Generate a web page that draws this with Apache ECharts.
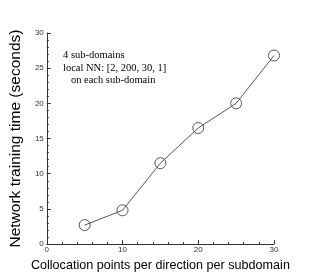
<!DOCTYPE html>
<html><head><meta charset="utf-8">
<script src="https://cdn.jsdelivr.net/npm/echarts@6/dist/echarts.min.js"></script>
<style>html,body{margin:0;padding:0;background:#fff}#c{width:311px;height:277px}</style>
</head><body><div id="c"></div>
<script>
const xValues = [5, 10, 15, 20, 25, 30];
const trainTime = [2.7, 4.8, 11.5, 16.5, 20.0, 26.8];
const annotationLines = ['4 sub-domains', 'local NN: [2, 200, 30, 1]', '   on each sub-domain'];

const chart = echarts.init(document.getElementById('c'), null, {renderer: 'canvas'});
const axisCol = '#333';
chart.setOption({
  animation: false,
  grid: {left: 41, right: 37, top: 33, bottom: 31},
  xAxis: {
    type: 'value', min: 0, max: 30, interval: 10,
    name: 'Collocation points per direction per subdomain',
    nameLocation: 'middle', nameGap: 14,
    nameTextStyle: {fontFamily: 'Liberation Sans', fontSize: 12.6, color: '#000'},
    axisLine: {lineStyle: {color: axisCol, width: 1}},
    axisTick: {inside: true, length: 4, lineStyle: {color: axisCol}},
    minorTick: {show: true, splitNumber: 5, length: 2, lineStyle: {color: axisCol}},
    axisLabel: {fontFamily: 'Liberation Sans', fontSize: 8, color: '#333', margin: 2},
    splitLine: {show: false}
  },
  yAxis: {
    type: 'value', min: 0, max: 30, interval: 5,
    name: 'Network training time (seconds)',
    nameLocation: 'middle', nameGap: 21,
    nameTextStyle: {fontFamily: 'Liberation Sans', fontSize: 15.5, color: '#000'},
    axisLine: {show: true, lineStyle: {color: axisCol, width: 1}},
    axisTick: {show: true, inside: true, length: 4, lineStyle: {color: axisCol}},
    minorTick: {show: true, splitNumber: 5, length: 2, lineStyle: {color: axisCol}},
    axisLabel: {fontFamily: 'Liberation Sans', fontSize: 8, color: '#333', margin: 3},
    splitLine: {show: false}
  },
  series: [{
    type: 'line',
    data: xValues.map((x, i) => [x, trainTime[i]]),
    symbol: 'circle', symbolSize: 11,
    itemStyle: {color: 'rgba(255,255,255,0)', borderColor: '#555', borderWidth: 1},
    lineStyle: {color: '#555', width: 1}
  }],
  graphic: [{
    type: 'text', left: 63, top: 49,
    style: {text: annotationLines.join('\n'), fontFamily: 'Liberation Serif', fontSize: 10.5, lineHeight: 12.5, fill: '#000'}
  }]
});
</script></body></html>
